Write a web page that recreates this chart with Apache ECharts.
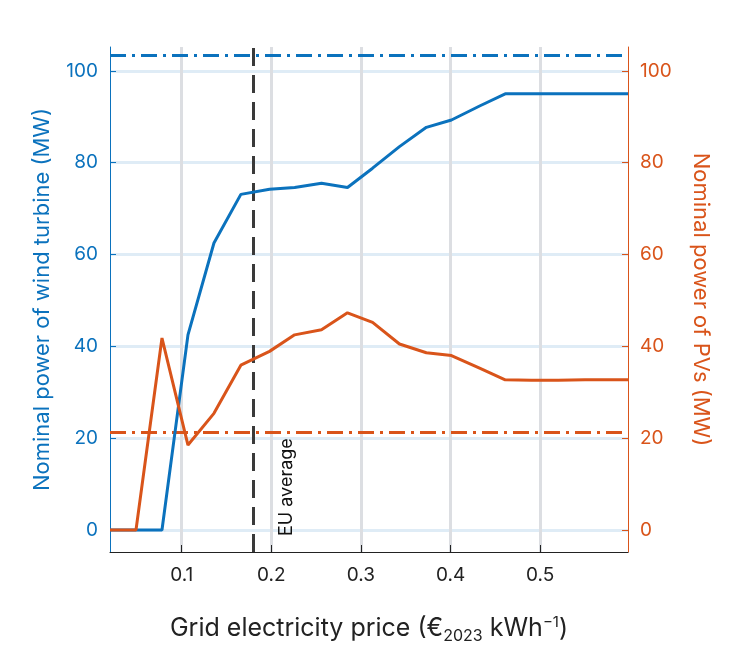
<!DOCTYPE html><html><head><meta charset="utf-8">
<script src="https://cdn.jsdelivr.net/npm/echarts@6/dist/echarts.min.js"></script>
<style>html,body{margin:0;background:#fff}#c{width:746px;height:660px}</style></head><body><div id="c"></div>
<script>
const prices=[0.02,0.049,0.078,0.107,0.136,0.166,0.198,0.226,0.256,0.285,0.313,0.343,0.373,0.401,0.433,0.461,0.49,0.52,0.55,0.598];
const wind=[0,0,0,42.5,62.5,73.1,74.2,74.6,75.5,74.6,78.8,83.5,87.7,89.3,92.4,95,95,95,95,95];
const pv=[0,0,41.8,18.5,25.4,35.9,38.9,42.5,43.6,47.3,45.2,40.5,38.6,38.0,35.2,32.7,32.6,32.6,32.7,32.7];
const windRef=103.3, pvRef=21.3, euAvg=0.18;
const xTicks=[0.1,0.2,0.3,0.4,0.5], yTicks=[0,20,40,60,80,100];
const blue='#0b72bd', orange='#d9541a';
const pair=a=>prices.map((p,i)=>[p,a[i]]);
const ch=echarts.init(document.getElementById('c'));
const ff='Inter, Roboto, sans-serif';
const yBase=(c,pos)=>({type:'value',position:pos,min:-4.8,max:105.2,interval:20,
  axisLine:{show:true,lineStyle:{color:c,width:1}},axisTick:{show:true,inside:true,length:6,lineStyle:{color:c},customValues:yTicks},
  axisLabel:{color:c,fontSize:19,fontFamily:ff,margin:12,customValues:yTicks},
  nameLocation:'middle',nameGap:pos==='left'?57:62,nameRotate:pos==='left'?90:-90,nameTextStyle:{color:c,fontSize:22,fontFamily:ff}});
ch.setOption({
 animation:false,
 grid:{left:110,right:118,top:47,bottom:108},
 xAxis:{type:'value',min:0.02,max:0.598,
  axisLine:{show:true,onZero:false,lineStyle:{color:'#222'}},
  axisTick:{inside:true,length:7,lineStyle:{color:'#222'},customValues:xTicks},
  axisLabel:{color:'#222',fontSize:19,fontFamily:ff,margin:14,customValues:xTicks,formatter:v=>String(v)},
  splitLine:{show:true,lineStyle:{color:'#dcdee2',width:3},customValues:xTicks},
  name:'{a|Grid electricity price (€}{s|2023}{a| kWh}{p|−1}{a|)}',nameLocation:'middle',nameGap:60,
  nameTextStyle:{rich:{a:{fontSize:25,fontFamily:ff,color:'#222',lineHeight:32,verticalAlign:'middle'},
   s:{fontSize:16,fontFamily:ff,color:'#222',padding:[16,0,0,0],verticalAlign:'middle'},
   p:{fontSize:15,fontFamily:ff,color:'#222',padding:[0,0,12,0],verticalAlign:'middle'}}}},
 yAxis:[Object.assign(yBase(blue,'left'),{name:'Nominal power of wind turbine (MW)',splitLine:{show:true,lineStyle:{color:'#dfecf6',width:3},customValues:yTicks}}),
        Object.assign(yBase(orange,'right'),{name:'Nominal power of PVs (MW)',splitLine:{show:false}})],
 series:[
  {type:'line',data:pair(wind),yAxisIndex:0,symbol:'none',lineStyle:{color:blue,width:3},z:5,
   markLine:{silent:true,symbol:'none',data:[{yAxis:windRef}],lineStyle:{color:blue,width:3,type:[16,6,3,6]},label:{show:false}}},
  {type:'line',data:pair(pv),yAxisIndex:1,symbol:'none',lineStyle:{color:orange,width:3},z:5,
   markLine:{silent:true,symbol:'none',data:[{yAxis:pvRef}],lineStyle:{color:orange,width:3,type:[16,6,3,6]},label:{show:false}}},
  {type:'line',data:[],yAxisIndex:0,
   markLine:{silent:true,symbol:'none',data:[{xAxis:euAvg}],lineStyle:{color:'#3a3a3a',width:3,type:[18,9]},
    label:{show:true,formatter:'EU average',position:'insideStartBottom',distance:[16,24],color:'#111',fontSize:18,fontFamily:ff}}}
 ]
});
</script></body></html>
